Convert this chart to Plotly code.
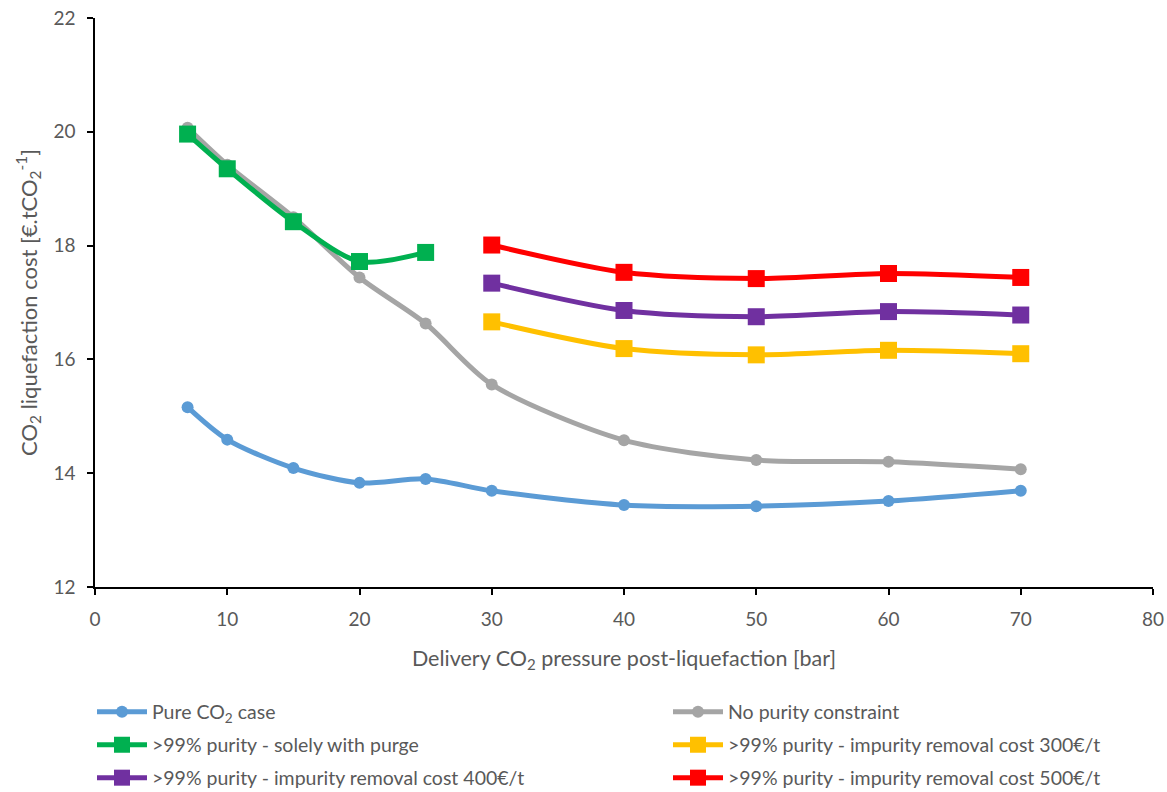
import plotly.graph_objects as go

x_all = [7, 10, 15, 20, 25, 30, 40, 50, 60, 70]
x_purge = [7, 10, 15, 20, 25]
x_removal = [30, 40, 50, 60, 70]

pure_co2 = [15.16, 14.59, 14.09, 13.83, 13.90, 13.69, 13.44, 13.42, 13.51, 13.69]
no_purity = [20.07, 19.42, 18.50, 17.44, 16.63, 15.56, 14.58, 14.23, 14.20, 14.07]
solely_purge = [19.96, 19.35, 18.42, 17.72, 17.88]
removal_300 = [16.66, 16.19, 16.08, 16.16, 16.10]
removal_400 = [17.34, 16.86, 16.75, 16.84, 16.78]
removal_500 = [18.01, 17.53, 17.42, 17.51, 17.44]

names = [
    "Pure CO<sub>2</sub> case",
    "No purity constraint",
    ">99% purity - solely with purge",
    ">99% purity - impurity removal cost 300€/t",
    ">99% purity - impurity removal cost 400€/t",
    ">99% purity - impurity removal cost 500€/t",
]
colors = ["#5b9bd5", "#a5a5a5", "#00b050", "#ffc000", "#7030a0", "#ff0000"]

series = [
    (x_all, pure_co2, "circle", 12),
    (x_all, no_purity, "circle", 12),
    (x_purge, solely_purge, "square", 17),
    (x_removal, removal_300, "square", 17),
    (x_removal, removal_400, "square", 17),
    (x_removal, removal_500, "square", 17),
]

legend_ids = ["legend", "legend2", "legend3", "legend4", "legend5", "legend6"]

fig = go.Figure()
for (xs, ys, sym, sz), name, c, lg in zip(series, names, colors, legend_ids):
    fig.add_trace(go.Scatter(
        x=xs, y=ys, name=name, mode="lines+markers",
        line=dict(color=c, width=5, shape="spline", smoothing=0.8),
        marker=dict(symbol=sym, size=sz, color=c),
        legend=lg,
    ))

font_fam = "Lato, 'Open Sans', sans-serif"
W, H = 1167, 792
ml, mr, mt, mb = 95, 14, 18, 205
pw = W - ml - mr
ph = H - mt - mb

def px_to_paper_x(px):
    return (px - ml) / pw

def px_to_paper_y(py):
    return (H - mb - py) / ph

row_y = [712, 745, 778]
col_x = [92, 668]
legend_layout = {}
for i, lg in enumerate(legend_ids):
    r, c = divmod(i, 2)
    legend_layout[lg] = dict(
        x=px_to_paper_x(col_x[c]), xanchor="left",
        y=px_to_paper_y(row_y[r]), yanchor="middle",
        orientation="v", itemwidth=50,
        bgcolor="rgba(0,0,0,0)",
        font=dict(family=font_fam, size=19.5, color="#595959"),
    )

fig.update_layout(
    width=W, height=H,
    margin=dict(l=ml, r=mr, t=mt, b=mb, autoexpand=False),
    paper_bgcolor="white", plot_bgcolor="white",
    font=dict(family=font_fam, size=19, color="#595959"),
    showlegend=True,
    xaxis=dict(
        range=[0, 80], dtick=10, tick0=0,
        showline=True, linecolor="black", linewidth=1.5,
        ticks="outside", ticklen=6, tickcolor="black", tickwidth=1.5,
        ticklabelstandoff=8,
        showgrid=False, zeroline=False,
        title=dict(text="Delivery CO<sub>2</sub> pressure post-liquefaction [bar]",
                   font=dict(size=21.5, color="#595959"), standoff=22),
        tickfont=dict(size=19, color="#595959"),
    ),
    yaxis=dict(
        range=[12, 22], dtick=2, tick0=12,
        showline=True, linecolor="black", linewidth=1.5,
        ticks="outside", ticklen=6, tickcolor="black", tickwidth=1.5,
        ticklabelstandoff=8,
        showgrid=False, zeroline=False,
        title=dict(text="CO<sub>2</sub> liquefaction cost [€.tCO<sub>2</sub><sup>-1</sup>]",
                   font=dict(size=22, color="#595959"), standoff=10),
        tickfont=dict(size=19, color="#595959"),
    ),
    **legend_layout,
)

fig.write_html("out.html")
